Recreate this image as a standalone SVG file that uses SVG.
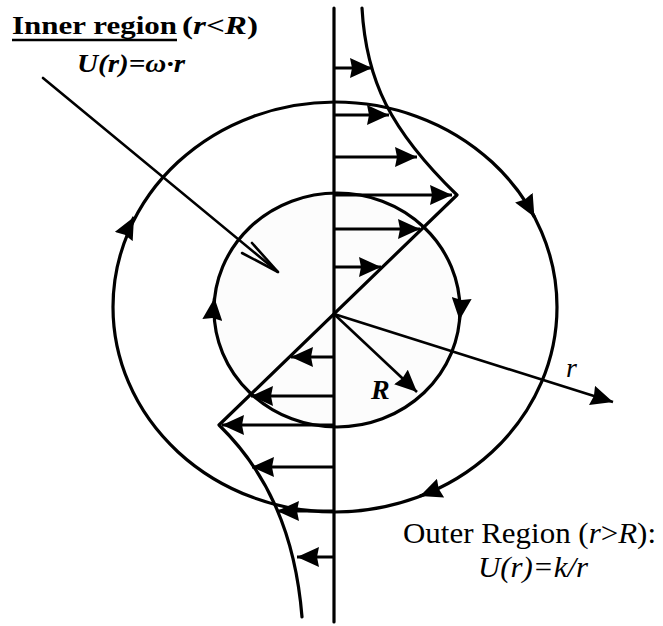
<svg xmlns="http://www.w3.org/2000/svg" width="663" height="626" viewBox="0 0 663 626">
<style>
.ln{fill:none;stroke:#000;stroke-width:3.2;stroke-linecap:round;stroke-linejoin:round}
.thin{fill:none;stroke:#000;stroke-width:2.6;stroke-linecap:round}
.ar{fill:none;stroke:#000;stroke-width:3.2;marker-end:url(#ah)}
.t{font-family:"Liberation Serif","Times New Roman",serif;fill:#000}
</style>
<defs>
<marker id="ah" viewBox="0 0 22 20" refX="22" refY="10" markerWidth="22" markerHeight="20" markerUnits="userSpaceOnUse" orient="auto">
<path d="M0,0 L22,10 L0,20 L2,10 z" fill="#000"/>
</marker>
</defs>
<rect width="663" height="626" fill="#fff"/>

<g id="inner-circle">
<ellipse cx="337" cy="310" rx="123" ry="117" class="ln" style="fill:#fcfcfc"/>
</g>
<g id="outer-circle">
<ellipse cx="335" cy="307" rx="222" ry="205" class="ln"/>
</g>
<g id="axis">
<line x1="334" y1="8" x2="334" y2="622" class="ln"/>
</g>
<g id="profile">
<path d="M362 8 C366 80 390 130 457 195 L219 425 C265 470 295 530 302 617" class="ln"/>
</g>

<g id="connectors">
<g id="velocity-arrows">
<line x1="334" y1="68" x2="372" y2="68" class="ar"/>
<line x1="334" y1="115" x2="389" y2="115" class="ar"/>
<line x1="334" y1="157" x2="417" y2="157" class="ar"/>
<line x1="334" y1="195" x2="452" y2="195" class="ar"/>
<line x1="334" y1="229" x2="420" y2="229" class="ar"/>
<line x1="334" y1="267" x2="381" y2="267" class="ar"/>
<line x1="334" y1="357" x2="291" y2="357" class="ar"/>
<line x1="334" y1="396" x2="251" y2="396" class="ar"/>
<line x1="334" y1="425" x2="222" y2="425" class="ar"/>
<line x1="334" y1="467" x2="252" y2="467" class="ar"/>
<line x1="334" y1="511" x2="277" y2="511" class="ar"/>
<line x1="334" y1="557" x2="297" y2="557" class="ar"/>
</g>
<g id="rotation-arrows">
<path d="M131.7 221.4 L134 217" class="ar"/>
<path d="M532 212.6 L534.4 217" class="ar"/>
<path d="M424.7 494.2 L420 496" class="ar"/>
<path d="M214 303 L214.5 298" class="ar"/>
<path d="M460 315 L459.5 320" class="ar"/>
</g>
<g id="radius-arrows">
<line x1="334" y1="314" x2="417" y2="392" class="ar" style="stroke-width:2.6"/>
<line x1="334" y1="314" x2="613" y2="402" class="ar" style="stroke-width:2.6"/>
</g>
<g id="pointer">
<line x1="43" y1="78" x2="278" y2="272" class="thin"/>
<polyline points="252,243 278,272 242,253" class="thin"/>
</g>
</g>

<g id="label-inner">
<text x="12" y="34" class="t" font-size="25" font-weight="bold" textLength="165" lengthAdjust="spacingAndGlyphs">Inner region</text>
<line x1="12" y1="40" x2="177" y2="40" stroke="#000" stroke-width="2.5"/>
<text x="182" y="34" class="t" font-size="25" font-weight="bold" textLength="76" lengthAdjust="spacingAndGlyphs">(<tspan font-style="italic">r</tspan>&lt;<tspan font-style="italic">R</tspan>)</text>
<text x="77" y="72" class="t" font-size="25" font-weight="bold" font-style="italic" textLength="108" lengthAdjust="spacingAndGlyphs">U(r)=ω·r</text>
</g>
<g id="label-outer">
<text x="403" y="543" class="t" font-size="30" textLength="253" lengthAdjust="spacingAndGlyphs">Outer Region (<tspan font-style="italic">r</tspan>&gt;<tspan font-style="italic">R</tspan>):</text>
<text x="478" y="577" class="t" font-size="29" font-style="italic" textLength="110" lengthAdjust="spacingAndGlyphs">U(r)=k/r</text>
</g>
<g id="label-r">
<text x="566" y="377" class="t" font-size="28" font-style="italic">r</text>
</g>
<g id="label-R">
<text x="371" y="399" class="t" font-size="28" font-weight="bold" font-style="italic">R</text>
</g>
</svg>
